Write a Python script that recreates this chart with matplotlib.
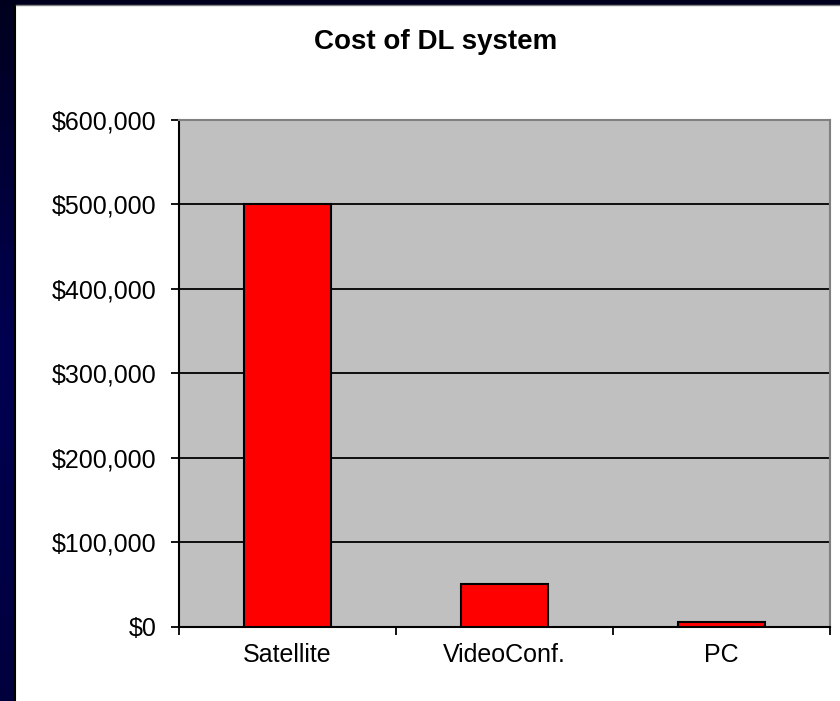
import numpy as np
import matplotlib.pyplot as plt
from matplotlib.patches import Rectangle
from matplotlib.ticker import FuncFormatter

# Cost of distance-learning systems
categories = ['Satellite', 'VideoConf.', 'PC']
costs = [500000, 50000, 5000]
y_ticks = [0, 100000, 200000, 300000, 400000, 500000, 600000]

plt.rcParams['font.family'] = ['Liberation Sans', 'DejaVu Sans']

fig = plt.figure(figsize=(8.4, 7.01), dpi=100)

# slide background: dark blue strip with a white chart frame on top
bg = fig.add_axes([0, 0, 1, 1], zorder=-10)
grad = np.concatenate([np.linspace(0.12, 0.32, 50), np.linspace(0.32, 0.24, 50)])
rgb = np.zeros((100, 1, 3))
rgb[:, 0, 2] = grad
bg.imshow(rgb, aspect='auto', extent=[0, 1, 0, 1])
bg.set_xlim(0, 1)
bg.set_ylim(0, 1)
bg.axis('off')
bg.add_patch(Rectangle((16 / 840, 0), 1, 1 - 5 / 701, facecolor='white',
                       edgecolor='none'))
bg.plot([15 / 840, 15 / 840], [0, 1 - 5 / 701], color='black', lw=1.5)
bg.plot([16 / 840, 1], [1 - 4.5 / 701, 1 - 4.5 / 701], color='#808080', lw=1)

ax = fig.add_axes([179 / 840, 1 - 626.7 / 701, 651 / 840, 506.9 / 701])
ax.set_facecolor('#c0c0c0')

x = np.arange(len(categories))
ax.bar(x, costs, width=0.4, color='#ff0000', edgecolor='black', linewidth=1.5,
       zorder=3)

ax.set_ylim(0, 600000)
ax.set_xlim(-0.5, len(categories) - 0.5)
ax.set_yticks(y_ticks)
ax.yaxis.set_major_formatter(FuncFormatter(lambda v, p: '${:,.0f}'.format(v)))
ax.grid(axis='y', color='black', linewidth=1.3, zorder=1)
ax.set_axisbelow(True)

# category boundaries get the tick marks, names sit between them
ax.set_xticks(np.arange(-0.5, len(categories), 1.0))
ax.set_xticklabels([])
ax.set_xticks(x, minor=True)
ax.set_xticklabels(categories, minor=True)
ax.tick_params(axis='x', which='major', direction='out', length=6, width=1.3)
ax.tick_params(axis='x', which='minor', length=0, pad=12, labelsize=18)
ax.tick_params(axis='y', direction='out', length=6, width=1.3, pad=10,
               labelsize=18)

for s in ['left', 'bottom']:
    ax.spines[s].set_color('black')
    ax.spines[s].set_linewidth(1.5)
for s in ['top', 'right']:
    ax.spines[s].set_color('#808080')
    ax.spines[s].set_linewidth(1.5)

fig.text(436 / 840, 1 - 42 / 701, 'Cost of DL system', ha='center',
         va='center', fontsize=20, fontweight='bold')

fig.savefig('out.png', dpi=100)
